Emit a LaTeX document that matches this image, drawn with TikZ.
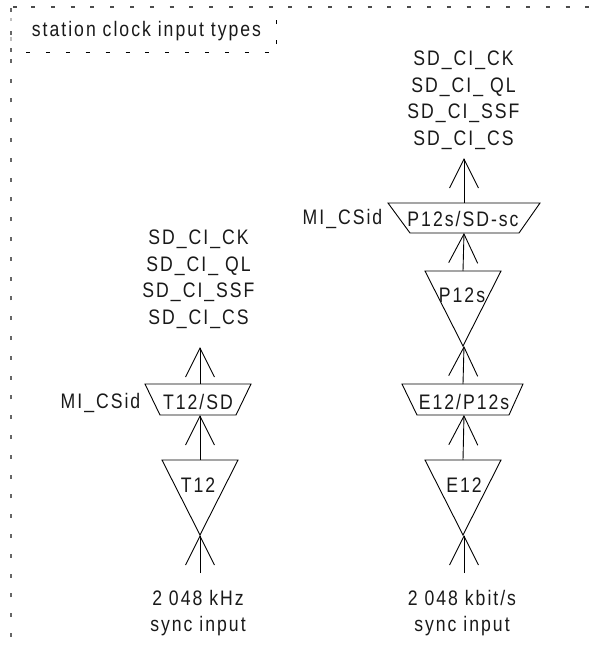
\documentclass[tikz,border=0pt]{standalone}
\usepackage{fontspec}
\setmainfont[LetterSpace=9.5,FakeStretch=0.84]{Liberation Sans}
\usetikzlibrary{arrows.meta}
\tikzset{
  lab/.style={inner sep=0pt,font=\fontsize{21}{26.5}\selectfont,align=center,text=black!90},
  shp/.style={draw=black,line width=0.9pt,line join=miter},
  conn/.style={draw=black,line width=0.9pt,-{Straight Barb[length=29pt,width=29pt,line width=0.9pt]}},
  frameV/.style={draw=black!60,line width=1.8pt,dash pattern=on 4pt off 15.8pt},
  frameH/.style={draw=black!70,line width=1.2pt,dash pattern=on 4pt off 15.8pt},
  frameI/.style={draw=black,line width=0.8pt,dash pattern=on 4pt off 15.9pt}
}
\begin{document}
\begin{tikzpicture}[x=1pt,y=-1pt]
\useasboundingbox (0,0) rectangle (604,649);
% frames
\draw[frameV] (11,637) -- (11,57);
\draw[frameV,draw=black!25] (11,41) -- (11,18);
\draw[frameV,dash pattern=on 4pt off 19pt on 4pt off 13pt] (11,8) -- (11,52);
\draw[frameH] (13,7) -- (17,7);
\draw[frameH] (31,7) -- (604,7);
\draw[frameI] (26,52) -- (277,52);
\draw[frameI] (276,44) -- (276,19);
\node[lab] (title) at (146.5,31) {station clock input types};
% left column
\draw[shp] (145,384) -- (251,384) -- (236,415) -- (160,415) -- cycle;
\draw[shp] (162,460) -- (238,460) -- (200,535) -- cycle;
\node[lab] (lsig) at (198.5,279) {SD\_CI\_CK\\SD\_CI\_ QL\\SD\_CI\_SSF\\SD\_CI\_CS};
\node[lab] (lmi) at (100.5,403) {MI\_CSid};
\node[lab] (lad) at (198,402) {T12/SD};
\node[lab] (lt) at (198,485) {T12};
\node[lab] (lin) at (198,613) {2 048 kHz\\sync input};
\coordinate (la1) at (200,384); \coordinate (lb1) at (200,347);
\coordinate (la2) at (200,460); \coordinate (lb2) at (200,415);
\coordinate (la3) at (200,573); \coordinate (lb3) at (200,535);
\draw[conn] (la1) -- (lb1);
\draw[conn] (la2) -- (lb2);
\draw[conn] (la3) -- (lb3);
% right column
\draw[shp] (388,203) -- (540,203) -- (519,233) -- (410,233) -- cycle;
\draw[shp] (425,271) -- (501,271) -- (463,346) -- cycle;
\draw[shp] (402,384) -- (523,384) -- (509,415) -- (417,415) -- cycle;
\draw[shp] (425,460) -- (501,460) -- (463,535) -- cycle;
\node[lab] (rsig) at (463.5,100) {SD\_CI\_CK\\SD\_CI\_ QL\\SD\_CI\_SSF\\SD\_CI\_CS};
\node[lab] (rmi) at (342.5,219) {MI\_CSid};
\node[lab] (rad) at (463,219) {P12s/SD-sc};
\node[lab] (rp) at (462,295) {P12s};
\node[lab] (rad2) at (464,402) {E12/P12s};
\node[lab] (re) at (464,485) {E12};
\node[lab] (rin) at (462,613) {2 048 kbit/s\\sync input};
\coordinate (ra0) at (464,203); \coordinate (rb0) at (464,158);
\coordinate (ra1) at (463,271); \coordinate (rb1) at (464,233);
\coordinate (ra2) at (463,384); \coordinate (rb2) at (464,346);
\coordinate (ra3) at (463,460); \coordinate (rb3) at (464,415);
\coordinate (ra4) at (464,573); \coordinate (rb4) at (464,535);
\draw[conn] (ra0) -- (rb0);
\draw[conn] (ra1) -- (rb1);
\draw[conn] (ra2) -- (rb2);
\draw[conn] (ra3) -- (rb3);
\draw[conn] (ra4) -- (rb4);
\end{tikzpicture}
\end{document}
